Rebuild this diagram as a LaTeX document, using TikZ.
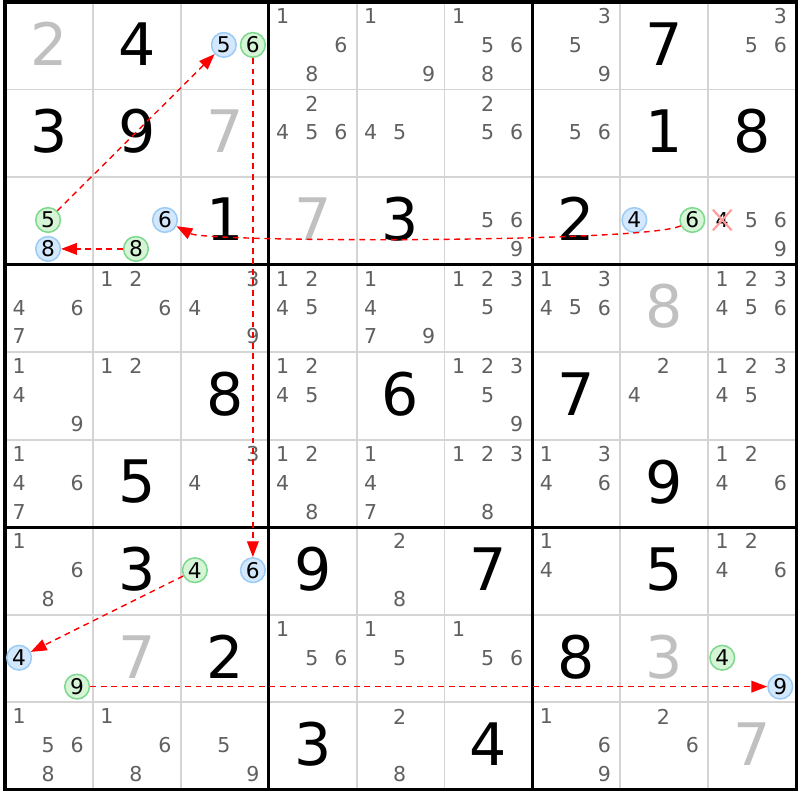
\documentclass[tikz,border=0pt]{standalone}
\usepackage{fontspec}
\setmainfont{DejaVu Sans}
\usetikzlibrary{arrows.meta,shapes.misc}
\definecolor{candgray}{HTML}{606060}
\definecolor{solvedgray}{HTML}{C0C0C0}
\definecolor{gridgray}{HTML}{D4D4D4}
\definecolor{ongreen}{HTML}{7FD88F}
\definecolor{onfill}{HTML}{D6F5D6}
\definecolor{offblue}{HTML}{9CCBF5}
\definecolor{offfill}{HTML}{D3E8FC}
\definecolor{crosspink}{HTML}{FF9A9A}
\begin{document}
\begin{tikzpicture}[
        x = 2.637cm, y = -2.6265cm,
        given/.style = {font=\fontsize{50}{50}\selectfont, text=black},
        solved/.style = {font=\fontsize{50}{50}\selectfont, text=solvedgray},
        cand/.style = {font=\fontsize{17.5}{17.5}\selectfont, text=candgray, inner sep=0pt},
        on/.style = {circle, draw=ongreen, fill=onfill, line width=1.3pt, minimum size=0.74cm,
                     inner sep=0pt, font=\fontsize{18.5}{18.5}\selectfont},
        off/.style = {circle, draw=offblue, fill=offfill, line width=1.3pt, minimum size=0.74cm,
                      inner sep=0pt, font=\fontsize{18.5}{18.5}\selectfont},
        cellline/.style = {gridgray, line width=1.6pt},
        boxline/.style = {black, line width=2.6pt},
        link/.style = {red, line width=1.2pt, dash pattern=on 5pt off 4pt,
                       -{Triangle[length=13.5pt, width=10pt]}}
    ]
    \fill[white] (-0.0569,-0.0228) rectangle (9.0444,9.1148);
    \useasboundingbox (-0.0569,-0.0228) rectangle (9.0444,9.1148);
    %--- Draw Grid ---%
        \foreach \i in {1,2,4,5,7,8} {
            \draw[cellline] (\i,0) -- (\i,9);
            \draw[cellline] (0,\i) -- (9,\i);
        }
        \foreach \i in {3,6} {
            \draw[boxline] (\i,0) -- (\i,9);
            \draw[boxline] (0,\i) -- (9,\i);
        }
        \draw[boxline] (0,0) rectangle (9,9);
    %--- Draw Givens ---%
        \foreach \r/\c/\d in {1/2/4, 1/8/7, 2/1/3, 2/2/9, 2/8/1, 2/9/8, 3/3/1, 3/5/3, 3/7/2,
                              5/3/8, 5/5/6, 5/7/7, 6/2/5, 6/8/9, 7/2/3, 7/4/9, 7/6/7, 7/8/5,
                              8/3/2, 8/7/8, 9/4/3, 9/6/4}
            \node (g\r\c) [given] at (\c-0.5,\r-0.52) {\d};
        \foreach \r/\c/\d in {1/1/2, 2/3/7, 3/4/7, 4/8/8, 8/2/7, 8/8/3, 9/9/7}
            \node (g\r\c) [solved] at (\c-0.5,\r-0.52) {\d};
    %--- Draw Candidates ---%
        \foreach \r/\c/\ds in {1/4/{1,6,8}, 1/5/{1,9}, 1/6/{1,5,6,8}, 1/7/{3,5,9}, 1/9/{3,5,6},
                               2/4/{2,4,5,6}, 2/5/{4,5}, 2/6/{2,5,6}, 2/7/{5,6},
                               3/6/{5,6,9}, 3/9/{5,6,9},
                               4/1/{4,6,7}, 4/2/{1,2,6}, 4/3/{3,4,9}, 4/4/{1,2,4,5}, 4/5/{1,4,7,9},
                               4/6/{1,2,3,5}, 4/7/{1,3,4,5,6}, 4/9/{1,2,3,4,5,6},
                               5/1/{1,4,9}, 5/2/{1,2}, 5/4/{1,2,4,5}, 5/6/{1,2,3,5,9}, 5/8/{2,4},
                               5/9/{1,2,3,4,5},
                               6/1/{1,4,6,7}, 6/3/{3,4}, 6/4/{1,2,4,8}, 6/5/{1,4,7}, 6/6/{1,2,3,8},
                               6/7/{1,3,4,6}, 6/9/{1,2,4,6},
                               7/1/{1,6,8}, 7/5/{2,8}, 7/7/{1,4}, 7/9/{1,2,4,6},
                               8/4/{1,5,6}, 8/5/{1,5}, 8/6/{1,5,6},
                               9/1/{1,5,6,8}, 9/2/{1,6,8}, 9/3/{5,9}, 9/5/{2,8}, 9/7/{1,6,9}, 9/8/{2,6}} {
            \foreach \d in \ds {
                \pgfmathsetmacro\px{\c-1+0.16+0.33*mod(\d-1,3)}
                \pgfmathsetmacro\py{\r-1+0.16+0.33*int((\d-1)/3)}
                \node (p\r\c\d) [cand] at (\px,\py) {\d};
            }
        }
        %--- eliminated candidate ---%
        \node (p394) [cand, text=black, cross out, draw=crosspink, line width=1.8pt, inner sep=1.5pt]
            at (8.16,2.49) {4};
    %--- Draw Chain Candidates ---%
        \foreach \r/\c/\d/\s in {1/3/5/off, 1/3/6/on, 3/1/5/on, 3/1/8/off, 3/2/6/off, 3/2/8/on,
                                 3/8/4/off, 3/8/6/on, 7/3/4/on, 7/3/6/off, 8/1/4/off, 8/1/9/on,
                                 8/9/4/on, 8/9/9/off} {
            \pgfmathsetmacro\px{\c-1+0.16+0.33*mod(\d-1,3)}
            \pgfmathsetmacro\py{\r-1+0.16+0.33*int((\d-1)/3)}
            \node (p\r\c\d) [\s] at (\px,\py) {\d};
        }
    %--- Draw Links ---%
        \draw[link] (p328) -- (p318);
        \draw[link] (p315) -- (p135);
        \draw[link] (p136) -- (p736);
        \draw[link] (p734) -- (p814);
        \draw[link] (p819) -- (p899);
        \draw[link] (p386) .. controls (7.3,2.75) and (2.3,2.75) .. (p326);
\end{tikzpicture}
\end{document}
